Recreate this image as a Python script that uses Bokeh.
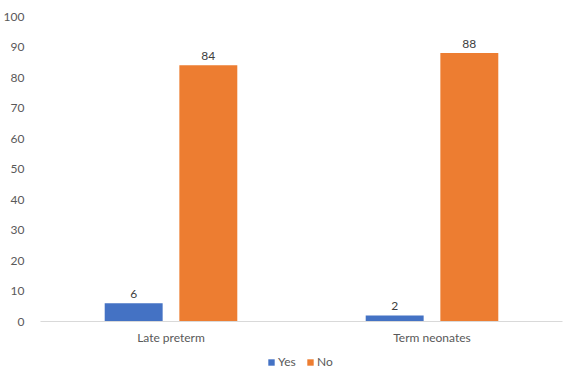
from bokeh.plotting import figure
from bokeh.layouts import column
from bokeh.models import (FactorRange, Range1d, ColumnDataSource, LabelSet, Legend,
                          LegendItem, FixedTicker)
from bokeh.core.properties import value
from bokeh.transform import dodge
from bokeh.embed import file_html
from bokeh.resources import INLINE

categories = ["Late preterm", "Term neonates"]
series_names = ["Yes", "No"]
yes_values = [6, 2]
no_values = [84, 88]
y_ticks = [0, 10, 20, 30, 40, 50, 60, 70, 80, 90, 100]

FONT = "Lato"
BLUE, ORANGE = "#4472C4", "#ED7D31"
src = ColumnDataSource(dict(cat=categories, yes=yes_values, no=no_values,
                            yes_t=[str(v) for v in yes_values],
                            no_t=[str(v) for v in no_values]))

p = figure(width=566, height=351, x_range=FactorRange(*categories),
           y_range=Range1d(0, 100), output_backend="svg", toolbar_location=None,
           min_border_left=29, min_border_right=4, min_border_top=16,
           min_border_bottom=30)
p.outline_line_color = None
p.grid.grid_line_color = None

p.vbar(x=dodge("cat", -0.143, range=p.x_range), top="yes", width=0.222,
       source=src, color=BLUE, line_color=None)
p.vbar(x=dodge("cat", 0.143, range=p.x_range), top="no", width=0.222,
       source=src, color=ORANGE, line_color=None)

for xo, col, tcol in [(-0.143, "yes", "yes_t"), (0.143, "no", "no_t")]:
    p.add_layout(LabelSet(x=dodge("cat", xo, range=p.x_range), y=col, text=tcol,
                          source=src, text_align="center", text_baseline="bottom",
                          y_offset=5, text_font=value(FONT), text_font_size="12px",
                          text_color="#404040"))

p.yaxis.ticker = FixedTicker(ticks=y_ticks)
p.yaxis.axis_line_color = None
p.yaxis.major_tick_line_color = None
p.yaxis.minor_tick_line_color = None
p.yaxis.major_label_standoff = 10
p.yaxis.major_label_text_font = FONT
p.yaxis.major_label_text_font_size = "12px"
p.yaxis.major_label_text_color = "#595959"

p.xaxis.axis_line_color = "#D9D9D9"
p.xaxis.axis_line_width = 1
p.xaxis.major_tick_line_color = None
p.xaxis.minor_tick_line_color = None
p.xaxis.major_tick_out = 0
p.xaxis.major_label_standoff = 8
p.xaxis.major_label_text_font = FONT
p.xaxis.major_label_text_font_size = "12px"
p.xaxis.major_label_text_color = "#595959"

# legend strip below the chart (swatch renderers are hidden; only the legend shows)
lg = figure(width=566, height=22, output_backend="svg", toolbar_location=None,
            x_range=Range1d(0, 1), y_range=Range1d(0, 1),
            min_border_left=0, min_border_right=0, min_border_top=0,
            min_border_bottom=0)
lg.axis.visible = False
lg.grid.visible = False
lg.outline_line_color = None
r1 = lg.vbar(x=[10], top=[10], width=0.1, color=BLUE, line_color=None, visible=False)
r2 = lg.vbar(x=[10], top=[10], width=0.1, color=ORANGE, line_color=None, visible=False)
legend = Legend(items=[LegendItem(label=series_names[0], renderers=[r1]),
                       LegendItem(label=series_names[1], renderers=[r2])],
                location=(227, 4), orientation="horizontal",
                padding=0, margin=0, spacing=8, glyph_width=8, glyph_height=8,
                label_standoff=3, label_height=14, label_text_font=FONT,
                label_text_font_size="12px", label_text_color="#595959",
                border_line_color=None, background_fill_alpha=0,
                inactive_fill_alpha=0)
lg.add_layout(legend)

open("out.html", "w").write(file_html(column(p, lg, spacing=0), INLINE))
